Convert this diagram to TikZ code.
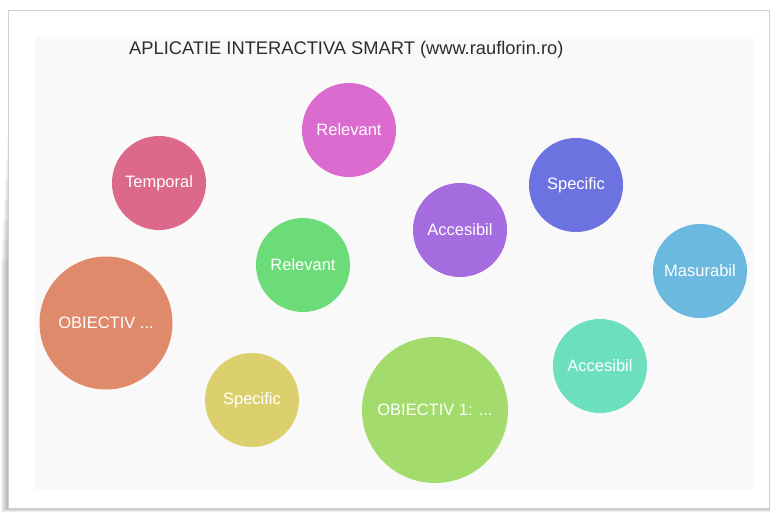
\documentclass[tikz,border=0pt]{standalone}
\usepackage{fontspec}
\setmainfont{Liberation Sans}

\definecolor{roz}{HTML}{DC6BD0}
\definecolor{temporal}{HTML}{DC698C}
\definecolor{albastru}{HTML}{6C73E0}
\definecolor{mov}{HTML}{A56CE0}
\definecolor{verde}{HTML}{6CDC78}
\definecolor{bleu}{HTML}{6CB9E0}
\definecolor{portocaliu}{HTML}{E08A6C}
\definecolor{turcoaz}{HTML}{6CE0BE}
\definecolor{galben}{HTML}{DCD06C}
\definecolor{lime}{HTML}{A3DC6C}
\definecolor{fundal}{HTML}{F9F9F9}

\tikzset{bulle/.style = {circle, minimum size = #1, inner sep = 0pt,
                         text = white, font = \fontsize{16.5}{16}\selectfont},
         bulle/.default = 94pt
        }

\begin{document}
\begin{tikzpicture}[x=1pt, y=-1pt]
  \useasboundingbox (0,0) rectangle (777,512);
  % umbra si cadrul
  \foreach \i in {1,...,7}
    \fill[black, opacity=0.045] (8-\i,120+20*\i) -- (8-\i,508+\i*0.6) -- (770,508+\i*0.6) -- (770,150) -- cycle;
  \fill[white, draw=black!18] (8,10) rectangle (769,508);
  \fill[fundal] (35,37) rectangle (753,490);
  \node[anchor=base west, inner sep=0pt, text=black!82, font=\fontsize{18.3}{18}\selectfont] (titlu) at (129,54)
       {APLICATIE INTERACTIVA SMART (www.rauflorin.ro)};
  % bulele
  \node[bulle, fill=roz]        (relevant1)  at (349,130) {Relevant};
  \node[bulle, fill=temporal]   (temporal)   at (159,183) {Temporal};
  \node[bulle, fill=albastru]   (specific1)  at (576,185) {Specific};
  \node[bulle, fill=mov]        (accesibil1) at (460,230) {Accesibil};
  \node[bulle, fill=verde]      (relevant2)  at (303,265) {Relevant};
  \node[bulle, fill=bleu]       (masurabil)  at (700,271) {Masurabil};
  \node[bulle=133pt, fill=portocaliu] (obiectiv)  at (106,323) {OBIECTIV ...};
  \node[bulle, fill=turcoaz]    (accesibil2) at (600,366) {Accesibil};
  \node[bulle, fill=galben]     (specific2)  at (252,400) {Specific};
  \node[bulle=146pt, fill=lime] (obiectiv1)  at (435,410) {OBIECTIV 1: ...};
\end{tikzpicture}
\end{document}
